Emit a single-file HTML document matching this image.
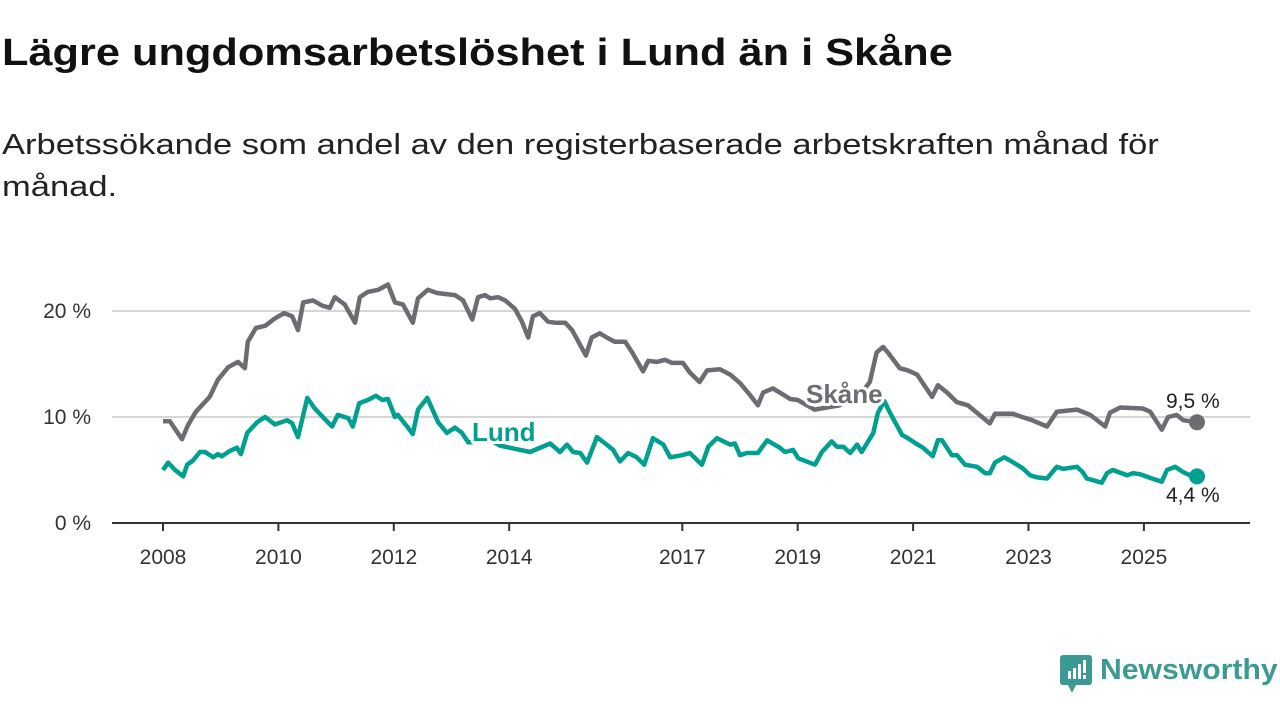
<!DOCTYPE html>
<html><head><meta charset="utf-8"><style>
body{margin:0;background:#fff;width:1280px;height:720px;overflow:hidden;font-family:"Liberation Sans",sans-serif}
h1{position:absolute;left:2px;top:32px;margin:0;font-size:38px;font-weight:700;color:#111;transform-origin:0 0;transform:scaleX(1.14);white-space:nowrap}
.sub{position:absolute;left:2px;top:124px;width:1000px;font-size:29px;line-height:42px;color:#222;transform-origin:0 0;transform:scaleX(1.19);white-space:nowrap}
</style></head><body>
<h1>Lägre ungdomsarbetslöshet i Lund än i Skåne</h1>
<div class="sub">Arbetssökande som andel av den registerbaserade arbetskraften månad för<br>månad.</div>
<svg id="c" width="1280" height="720" style="position:absolute;left:0;top:0"></svg>
<div style="position:absolute;left:1060px;top:655px;width:220px;height:42px">
<svg width="34" height="42" style="position:absolute;left:0;top:0"><rect x="0" y="0" width="32" height="30" rx="3" fill="#3d9a93"/><polygon points="8,30 16,30 12,38" fill="#3d9a93"/><rect x="8" y="16" width="3" height="8" fill="#fff"/><rect x="13" y="13" width="3" height="11" fill="#fff"/><rect x="18" y="9" width="3" height="15" fill="#fff"/><rect x="23" y="5" width="3" height="13" fill="#fff"/><rect x="23" y="20" width="3" height="4" fill="#fff"/></svg>
<span style="position:absolute;left:40px;top:-1px;font-size:29px;color:#3d9a93;font-weight:700;transform-origin:0 0;transform:scaleX(1.04);white-space:nowrap">Newsworthy</span></div>
<script>
const yTicks=[0,10,20];
const yTickLabels=["0 %","10 %","20 %"];
const xTicks=[2008,2010,2012,2014,2017,2019,2021,2023,2025];
const skaneT=[2008.00,2008.12,2008.33,2008.43,2008.57,2008.81,2008.95,2009.13,2009.30,2009.42,2009.47,2009.61,2009.77,2009.94,2010.10,2010.24,2010.34,2010.43,2010.60,2010.76,2010.89,2010.98,2011.15,2011.33,2011.41,2011.55,2011.73,2011.90,2012.02,2012.16,2012.33,2012.42,2012.59,2012.75,2012.89,2013.06,2013.20,2013.36,2013.46,2013.58,2013.67,2013.81,2013.93,2014.10,2014.22,2014.33,2014.41,2014.53,2014.67,2014.79,2014.97,2015.09,2015.33,2015.43,2015.57,2015.69,2015.83,2016.01,2016.13,2016.32,2016.41,2016.56,2016.70,2016.82,2017.01,2017.13,2017.30,2017.43,2017.65,2017.83,2018.00,2018.17,2018.31,2018.40,2018.57,2018.75,2018.87,2019.00,2019.29,2019.73,2020.08,2020.25,2020.37,2020.48,2020.56,2020.77,2020.91,2021.07,2021.33,2021.43,2021.59,2021.76,2021.95,2022.33,2022.42,2022.73,2022.89,2023.06,2023.32,2023.49,2023.84,2024.07,2024.33,2024.41,2024.59,2024.98,2025.11,2025.31,2025.42,2025.57,2025.68,2025.92];
const skaneV=[9.6,9.6,7.9,9.2,10.5,11.9,13.5,14.7,15.2,14.6,17.1,18.4,18.6,19.3,19.8,19.5,18.2,20.8,21.0,20.5,20.3,21.3,20.6,18.9,21.3,21.8,22.0,22.5,20.8,20.6,18.9,21.2,22.0,21.7,21.6,21.5,21.0,19.2,21.3,21.5,21.2,21.3,21.0,20.2,19.0,17.5,19.5,19.8,19.0,18.9,18.9,18.2,15.8,17.5,17.9,17.5,17.1,17.1,16.1,14.3,15.3,15.2,15.4,15.1,15.1,14.2,13.3,14.4,14.5,14.0,13.2,12.1,11.1,12.3,12.7,12.1,11.7,11.6,10.7,11.1,12.1,13.3,16.1,16.6,16.1,14.6,14.4,14.0,11.9,13.0,12.3,11.4,11.1,9.4,10.3,10.3,10.0,9.7,9.1,10.5,10.7,10.2,9.1,10.4,10.9,10.8,10.5,8.8,10.0,10.2,9.7,9.5];
const lundT=[2008.00,2008.09,2008.21,2008.35,2008.42,2008.52,2008.64,2008.73,2008.87,2008.95,2009.02,2009.16,2009.28,2009.35,2009.46,2009.63,2009.77,2009.94,2010.15,2010.24,2010.34,2010.50,2010.63,2010.77,2010.93,2011.03,2011.21,2011.29,2011.40,2011.55,2011.69,2011.80,2011.90,2012.02,2012.07,2012.23,2012.33,2012.42,2012.58,2012.77,2012.92,2013.06,2013.18,2013.29,2013.67,2013.84,2014.10,2014.36,2014.71,2014.88,2015.00,2015.11,2015.23,2015.35,2015.52,2015.69,2015.80,2015.92,2016.06,2016.21,2016.34,2016.49,2016.67,2016.79,2017.00,2017.13,2017.34,2017.45,2017.60,2017.83,2017.91,2018.00,2018.12,2018.31,2018.47,2018.69,2018.78,2018.92,2019.01,2019.30,2019.42,2019.59,2019.68,2019.79,2019.91,2020.03,2020.11,2020.31,2020.39,2020.50,2020.60,2020.81,2020.91,2021.08,2021.17,2021.34,2021.43,2021.50,2021.67,2021.76,2021.90,2022.11,2022.25,2022.33,2022.42,2022.58,2022.68,2022.89,2023.03,2023.15,2023.32,2023.49,2023.60,2023.84,2023.94,2024.01,2024.27,2024.36,2024.46,2024.71,2024.81,2024.93,2025.14,2025.31,2025.40,2025.54,2025.68,2025.80,2025.92];
const lundV=[5.0,5.7,5.0,4.4,5.5,5.9,6.7,6.7,6.2,6.5,6.3,6.8,7.1,6.5,8.5,9.5,10.0,9.3,9.7,9.4,8.1,11.8,10.8,10.0,9.1,10.2,9.9,9.1,11.3,11.6,12.0,11.6,11.7,10.0,10.2,9.1,8.4,10.7,11.8,9.5,8.5,9.0,8.5,7.6,7.8,7.3,7.0,6.7,7.5,6.7,7.4,6.7,6.6,5.7,8.1,7.4,6.9,5.8,6.6,6.2,5.5,8.0,7.4,6.2,6.4,6.6,5.5,7.2,8.0,7.4,7.5,6.4,6.6,6.6,7.8,7.1,6.7,6.9,6.1,5.5,6.7,7.7,7.2,7.2,6.6,7.4,6.7,8.5,10.4,11.5,10.4,8.3,8.0,7.4,7.1,6.3,7.8,7.8,6.4,6.4,5.5,5.3,4.7,4.7,5.7,6.2,5.9,5.2,4.5,4.3,4.2,5.3,5.1,5.3,4.8,4.2,3.8,4.7,5.0,4.5,4.7,4.6,4.2,3.9,5.0,5.3,4.8,4.5,4.4];
const ns="http://www.w3.org/2000/svg",svg=document.getElementById('c');
const X=t=>163+(t-2008)*57.7, Y=v=>523-v*10.6;
function mk(tag,at,txt){const e=document.createElementNS(ns,tag);for(const k in at)e.setAttribute(k,at[k]);if(txt!=null)e.textContent=txt;svg.appendChild(e);return e;}
yTicks.forEach((v,i)=>{
 if(v>0){const g=mk('line',{x1:112,x2:1250,y1:Y(v),y2:Y(v),stroke:'#d6d6d6','stroke-width':2});
 
 }
 const l=mk('text',{x:91,y:Y(v)+7,'text-anchor':'end','font-size':21,fill:'#333'},yTickLabels[i]);
 
 
});
const ax=mk('line',{x1:112,x2:1250,y1:523,y2:523,stroke:'#333','stroke-width':2});


xTicks.forEach(t=>{
 mk('line',{x1:X(t),x2:X(t),y1:523,y2:531,stroke:'#333','stroke-width':2});
 const l=mk('text',{x:X(t),y:564,'text-anchor':'middle','font-size':21,fill:'#333'},String(t));
 
 
});
function line(T,V,col,name){
 const p=mk('path',{d:T.map((t,i)=>(i?'L':'M')+X(t).toFixed(1)+','+Y(V[i]).toFixed(1)).join(''),fill:'none',stroke:col,'stroke-width':4.5,'stroke-linejoin':'round'});
 
 
 const n=T.length-1;
 const d=mk('circle',{cx:X(T[n]),cy:Y(V[n]),r:8,fill:col});
 
 
}
line(skaneT,skaneV,'#6d6c72','skane-line');
line(lundT,lundV,'#00a091','lund-line');
function lab(x,y,txt,col,name,bold){
 const a={x:x,y:y,'font-size':bold?26:21,'font-weight':bold?700:400,fill:col,stroke:'#fff','stroke-width':6,'paint-order':'stroke','stroke-linejoin':'round'};
 const e=mk('text',a,txt);
 
 
}
lab(806,403,'Skåne','#6d6c72','skane-label',true);
lab(472,441,'Lund','#00a091','lund-label',true);
lab(1166,408,'9,5 %','#222','skane-end-value',false);
lab(1166,502,'4,4 %','#222','lund-end-value',false);
</script>
</body></html>
